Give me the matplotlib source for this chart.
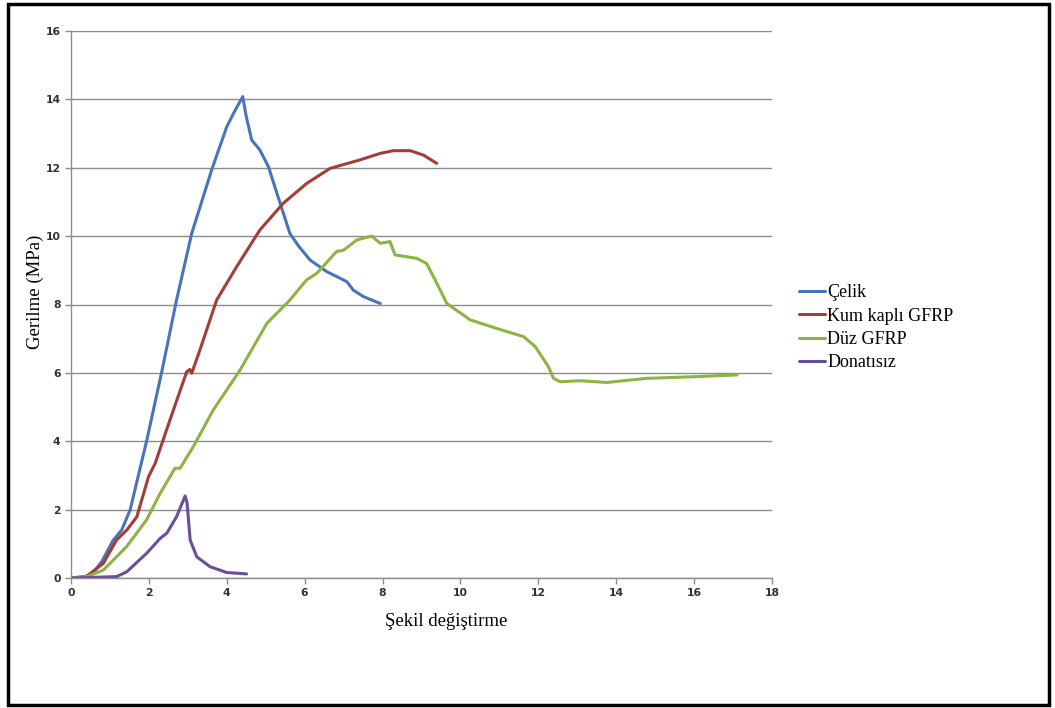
import matplotlib
matplotlib.use("Agg")
import matplotlib.pyplot as plt
from matplotlib.patches import Rectangle

# ---- data ----
celik_x = [0, 0.3, 0.56, 0.8, 1.08, 1.3, 1.52, 1.94, 2.33, 2.71, 3.1, 3.61, 4.0, 4.2, 4.41,
           4.5, 4.64, 4.85, 5.07, 5.37, 5.62, 5.85, 6.14, 6.57, 7.08, 7.25, 7.51, 7.94]
celik_y = [0, 0.02, 0.13, 0.5, 1.1, 1.4, 2.0, 4.0, 6.03, 8.13, 10.08, 11.93, 13.2, 13.65, 14.08,
           13.5, 12.81, 12.52, 12.03, 10.96, 10.08, 9.7, 9.3, 8.96, 8.67, 8.42, 8.23, 8.03]

kum_x = [0, 0.4, 0.83, 1.17, 1.43, 1.69, 1.99, 2.16, 2.54, 2.97, 3.05, 3.1, 3.31, 3.74,
         4.25, 4.85, 5.45, 6.05, 6.65, 7.42, 7.94, 8.28, 8.71, 9.05, 9.39]
kum_y = [0, 0.05, 0.43, 1.11, 1.4, 1.79, 2.96, 3.35, 4.62, 6.03, 6.1, 5.99, 6.67, 8.13,
         9.1, 10.18, 10.96, 11.54, 11.98, 12.23, 12.42, 12.5, 12.5, 12.37, 12.13]

duz_x = [0, 0.4, 0.83, 1.43, 1.94, 2.29, 2.67, 2.8, 3.14, 3.65, 4.34, 5.03, 5.62, 6.05,
         6.31, 6.82, 7.0, 7.34, 7.72, 7.94, 8.19, 8.32, 8.88, 9.13, 9.35, 9.65, 10.25,
         10.93, 11.62, 11.92, 12.26, 12.39, 12.56, 13.07, 13.76, 14.78, 16.07, 17.1]
duz_y = [0, 0.04, 0.23, 0.92, 1.7, 2.48, 3.21, 3.21, 3.84, 4.91, 6.08, 7.45, 8.13, 8.72,
         8.91, 9.55, 9.59, 9.89, 10.0, 9.79, 9.84, 9.45, 9.35, 9.2, 8.72, 8.03, 7.55,
         7.3, 7.06, 6.77, 6.18, 5.84, 5.74, 5.77, 5.72, 5.84, 5.89, 5.94]

don_x = [0, 1.17, 1.43, 1.94, 2.29, 2.46, 2.71, 2.93, 2.98, 3.06, 3.23, 3.57, 4.0, 4.51]
don_y = [0, 0.04, 0.18, 0.72, 1.16, 1.31, 1.79, 2.4, 2.2, 1.11, 0.62, 0.33, 0.16, 0.12]

labels = ["Çelik", "Kum kaplı GFRP", "Düz GFRP", "Donatısız"]
colors = ["#4A74B9", "#A43D3A", "#8DB443", "#6A4E98"]

xticks = list(range(0, 19, 2))
yticks = list(range(0, 17, 2))

# ---- figure ----
W, H = 1055, 708
fig = plt.figure(figsize=(W / 100, H / 100), dpi=100)
fig.patches.append(Rectangle((8 / W, 3 / H), 1041 / W, 701 / H,
                             transform=fig.transFigure, fill=False,
                             edgecolor="black", linewidth=2.5))

ax = fig.add_axes([71 / W, 1 - 578 / H, (772 - 71) / W, (578 - 31) / H])

series = [(celik_x, celik_y), (kum_x, kum_y), (duz_x, duz_y), (don_x, don_y)]
for (xs, ys), lab, col in zip(series, labels, colors):
    ax.plot(xs, ys, color=col, linewidth=2.2, label=lab,
            solid_joinstyle="round", solid_capstyle="round")

ax.set_xlim(0, 18)
ax.set_ylim(0, 16)
ax.set_xticks(xticks)
ax.set_yticks(yticks)
ax.yaxis.grid(True, color="#8c8c8c", linewidth=1.0)
ax.set_axisbelow(True)
for s in ["top", "right"]:
    ax.spines[s].set_visible(False)
for s in ["left", "bottom"]:
    ax.spines[s].set_color("#8c8c8c")
    ax.spines[s].set_linewidth(1.0)
ax.tick_params(axis="both", colors="#8c8c8c", length=4, width=1.0,
               labelsize=7.8, labelcolor="#333333")
for t in ax.get_xticklabels() + ax.get_yticklabels():
    t.set_fontweight("bold")
    t.set_family("DejaVu Sans")

fig.text(446 / W, 1 - 622 / H, "Şekil değiştirme", family="Liberation Serif",
         fontsize=13.5, ha="center", va="center")
fig.text(35 / W, 1 - 292 / H, "Gerilme (MPa)", family="Liberation Serif",
         fontsize=13.5, ha="center", va="center", rotation=90)

leg = ax.legend(loc="upper left", bbox_to_anchor=(783 / W, 1 - 268 / H),
                bbox_transform=fig.transFigure, frameon=False,
                prop={"family": "Liberation Serif", "size": 13},
                handlelength=1.45, handletextpad=0.1, labelspacing=0.35)

fig.savefig("out.png", dpi=100)
